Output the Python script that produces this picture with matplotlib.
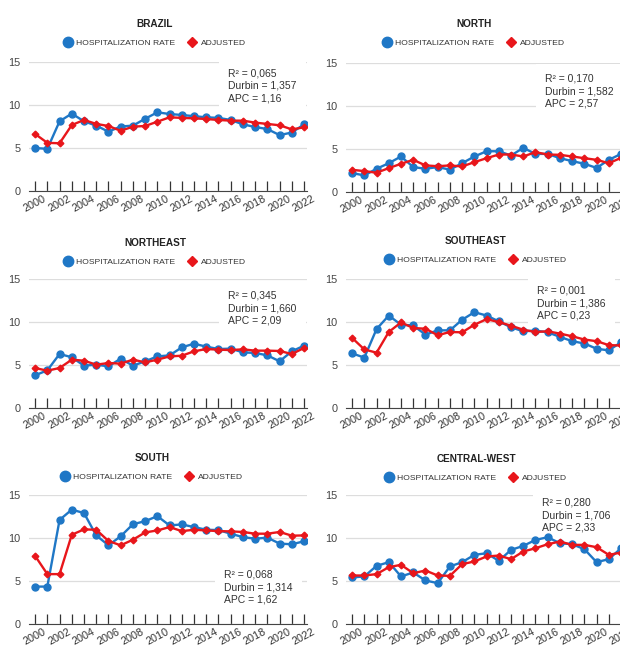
import numpy as np
import matplotlib
matplotlib.use("Agg")
import matplotlib.pyplot as plt
from matplotlib.lines import Line2D

plt.rcParams['font.family'] = ['Liberation Sans', 'DejaVu Sans']

years = np.arange(2000, 2023)

# Hospitalization rate / adjusted values per region
brazil_rate = [5.0, 4.9, 8.1, 9.0, 8.1, 7.6, 6.9, 7.5, 7.6, 8.4, 9.15, 8.95, 8.84, 8.7,
               8.57, 8.5, 8.26, 7.75, 7.44, 7.2, 6.5, 6.8, 7.75]
brazil_adj = [6.63, 5.6, 5.55, 7.67, 8.26, 7.8, 7.56, 7.0, 7.48, 7.56, 8.06, 8.57, 8.5, 8.45,
              8.37, 8.26, 8.18, 8.18, 7.95, 7.8, 7.64, 7.17, 7.4]

north_rate = [2.2, 1.93, 2.7, 3.35, 4.13, 2.9, 2.7, 2.9, 2.6, 3.35, 4.13, 4.74, 4.74, 4.24,
              5.13, 4.43, 4.43, 3.93, 3.59, 3.28, 2.8, 3.74, 4.43]
north_adj = [2.58, 2.43, 2.24, 2.78, 3.28, 3.74, 3.09, 3.0, 3.09, 2.97, 3.47, 3.93, 4.36, 4.36,
             4.13, 4.63, 4.36, 4.32, 4.13, 3.93, 3.74, 3.35, 3.97]

northeast_rate = [3.8, 4.38, 6.28, 5.9, 4.92, 5.04, 4.84, 5.74, 4.92, 5.43, 6.0, 6.12, 7.05, 7.48,
                  7.13, 6.86, 6.9, 6.47, 6.4, 6.12, 5.43, 6.59, 7.25]
northeast_adj = [4.65, 4.34, 4.65, 5.62, 5.5, 5.04, 5.23, 5.16, 5.62, 5.31, 5.62, 6.0, 6.08, 6.59,
                 6.86, 6.78, 6.74, 6.82, 6.67, 6.67, 6.63, 6.28, 6.98]

southeast_rate = [6.35, 5.86, 9.18, 10.75, 9.68, 9.6, 8.53, 9.03, 9.03, 10.26, 11.14, 10.75, 10.07,
                  9.38, 8.92, 9.0, 8.8, 8.27, 7.77, 7.5, 6.89, 6.7, 7.65]
southeast_adj = [8.15, 6.81, 6.43, 8.84, 9.95, 9.3, 9.22, 8.46, 8.84, 8.8, 9.68, 10.33, 9.99, 9.57,
                 9.1, 8.84, 8.92, 8.65, 8.34, 7.96, 7.77, 7.31, 7.27]

south_rate = [4.35, 4.35, 12.1, 13.3, 12.9, 10.3, 9.15, 10.2, 11.6, 11.96, 12.54, 11.46, 11.58,
              11.27, 10.96, 10.92, 10.5, 10.1, 9.92, 10.04, 9.35, 9.27, 9.62]
south_adj = [7.92, 5.8, 5.8, 10.38, 11.0, 10.96, 9.65, 9.15, 9.8, 10.65, 10.88, 11.27, 10.8, 10.96,
             10.88, 10.8, 10.77, 10.7, 10.5, 10.5, 10.7, 10.27, 10.3]

cw_rate = [5.41, 5.53, 6.76, 7.19, 5.53, 5.99, 5.06, 4.75, 6.69, 7.19, 8.04, 8.23, 7.34, 8.62,
           9.08, 9.78, 10.09, 9.39, 9.28, 8.7, 7.19, 7.54, 8.81]
cw_adj = [5.64, 5.64, 5.8, 6.61, 6.88, 5.91, 6.22, 5.64, 5.6, 6.96, 7.27, 7.85, 7.96, 7.54,
          8.43, 8.81, 9.28, 9.59, 9.2, 9.2, 8.93, 8.04, 8.31]

titles = ['BRAZIL', 'NORTH', 'NORTHEAST', 'SOUTHEAST', 'SOUTH', 'CENTRAL-WEST']
rates = [brazil_rate, north_rate, northeast_rate, southeast_rate, south_rate, cw_rate]
adjusted = [brazil_adj, north_adj, northeast_adj, southeast_adj, south_adj, cw_adj]
stats = [('0,065', '1,357', '1,16'), ('0,170', '1,582', '2,57'),
         ('0,345', '1,660', '2,09'), ('0,001', '1,386', '0,23'),
         ('0,068', '1,314', '1,62'), ('0,280', '1,706', '2,33')]

BLUE = '#1f77c6'
RED = '#e8161b'

W, H = 620, 649
fig = plt.figure(figsize=(6.2, 6.49), dpi=100)

# layout in pixels: (axes left, y of zero line, title/legend centre x, title y, legend y, stats x, stats y)
layout = [
    (29, 191, 155, 24, 43, 228, 86),
    (346, 192, 474, 24, 43, 545, 91),
    (29, 408, 155, 243, 262, 228, 308),
    (346, 408, 476, 241, 260, 537, 303),
    (29, 624, 152, 458, 477, 224, 587),
    (346, 624, 476, 459, 478, 542, 515),
]
ax_w, ax_h = 277.5, 129

for i in range(6):
    left, y0, cx, ty, ly, sx, sy = layout[i]
    ax = fig.add_axes([left / W, (H - y0) / H, ax_w / W, ax_h / H])
    ax.plot(years, rates[i], '-o', color=BLUE, lw=1.7, ms=5, zorder=3)
    ax.plot(years, adjusted[i], '-D', color=RED, lw=1.7, ms=3.4, zorder=4)
    ax.set_xlim(1999.5, 2022.2)
    ax.set_ylim(0, 15)
    ax.set_yticks([0, 5, 10, 15])
    ax.set_xticks(years)
    ax.set_xticklabels([str(y) if y % 2 == 0 else '' for y in years])
    ax.grid(axis='y', color='#dddddd', lw=0.9)
    ax.set_axisbelow(True)
    for s in ['top', 'right', 'left']:
        ax.spines[s].set_visible(False)
    ax.spines['bottom'].set_color('#444444')
    ax.tick_params(axis='y', length=0, labelsize=7.8, labelcolor='#444444', pad=6)
    ax.tick_params(axis='x', direction='in', length=7, width=0.9, color='#333333',
                   labelsize=7.8, labelcolor='#333333', pad=2)
    for lab in ax.get_xticklabels():
        lab.set_rotation(28)
        lab.set_ha('center')

    fig.text(cx / W, 1 - ty / H, titles[i], ha='center', va='center',
             fontsize=7.2, fontweight='bold', color='#222222')
    handles = [Line2D([], [], color=BLUE, marker='o', ls='', ms=7.5),
               Line2D([], [], color=RED, marker='D', ls='', ms=5.5)]
    ax.legend(handles, ['HOSPITALIZATION RATE', 'ADJUSTED'], ncol=2, frameon=False,
              loc='center', bbox_to_anchor=(cx / W, 1 - ly / H), bbox_transform=fig.transFigure,
              fontsize=6.1, handlelength=0.8, handletextpad=0.6, columnspacing=1.6,
              labelcolor='#333333')

    r2, dw, apc = stats[i]
    ax.text(sx / W, 1 - sy / H, 'R² = %s\nDurbin = %s\nAPC = %s' % (r2, dw, apc),
            transform=fig.transFigure, ha='left', va='center', fontsize=7.5,
            color='#333333', linespacing=1.3, zorder=2.5,
            bbox=dict(boxstyle='square,pad=0.9', fc='white', ec='none'))

fig.savefig('out.png', dpi=100)
